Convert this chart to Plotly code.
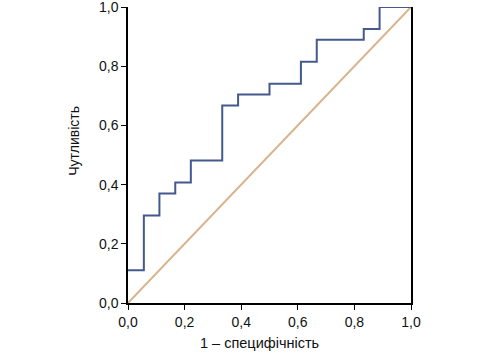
import plotly.graph_objects as go

# ROC curve data (1 - specificity, sensitivity)
fpr = [0.0, 0.056, 0.111, 0.167, 0.222, 0.333, 0.389, 0.5, 0.611, 0.667, 0.833, 0.889, 1.0]
tpr = [0.111, 0.296, 0.370, 0.407, 0.481, 0.667, 0.704, 0.741, 0.815, 0.889, 0.926, 1.0, 1.0]
ref_x = [0.0, 1.0]
ref_y = [0.0, 1.0]
tick_vals = [0.0, 0.2, 0.4, 0.6, 0.8, 1.0]
x_title = "1 – специфічність"
y_title = "Чутливість"

FONT = "Liberation Sans, Arial, sans-serif"

fig = go.Figure()
fig.add_trace(go.Scatter(x=ref_x, y=ref_y, mode="lines",
                         line=dict(color="#d8b48e", width=2), showlegend=False))
fig.add_trace(go.Scatter(x=fpr, y=tpr, mode="lines", line_shape="hv",
                         line=dict(color="#44598c", width=2), showlegend=False))

fig.update_layout(
    width=478, height=354,
    margin=dict(l=128, r=67, t=7, b=51, autoexpand=False),
    paper_bgcolor="white", plot_bgcolor="white",
    separators=", ",
    font=dict(family=FONT, size=14, color="#111111"),
    xaxis=dict(range=[0, 1], tickvals=tick_vals, tickformat=".1f",
               showgrid=False, zeroline=False, showline=True, linecolor="black",
               linewidth=1.5, ticks="outside", ticklen=5, tickcolor="black",
               tickfont=dict(size=14), automargin=False,
               ticklabeloverflow="allow", fixedrange=True),
    yaxis=dict(range=[0, 1], tickvals=tick_vals, tickformat=".1f",
               showgrid=False, zeroline=False, showline=True, linecolor="black",
               linewidth=1.5, ticks="outside", ticklen=5, tickcolor="black",
               mirror=True, tickfont=dict(size=14), automargin=False,
               ticklabeloverflow="allow", fixedrange=True),
    annotations=[
        dict(text=x_title, xref="paper", yref="paper", x=0.466, y=-0.135,
             xanchor="center", yanchor="middle", showarrow=False,
             font=dict(size=14.5)),
        dict(text=y_title, xref="paper", yref="paper", x=-0.19, y=0.549,
             xanchor="center", yanchor="middle", showarrow=False,
             textangle=-90, font=dict(size=14)),
    ],
)

fig.write_html("out.html")
